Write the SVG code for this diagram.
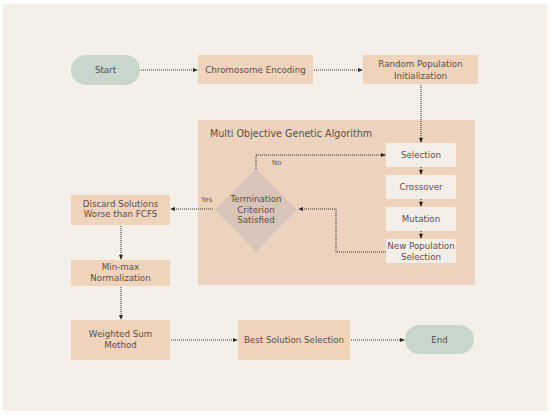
<svg xmlns="http://www.w3.org/2000/svg" width="550" height="415" viewBox="0 0 550 415">
<defs>
<marker id="ah" viewBox="0 0 6 6" refX="5" refY="3" markerWidth="5" markerHeight="5" orient="auto" markerUnits="userSpaceOnUse">
<path d="M0,0.5 L6,3 L0,5.5 Z" fill="#2f2925"/>
</marker>
<style>
.box{fill:#EFD3BB}
.inner{fill:#F4EEE8}
.pill{fill:#C9D6CD}
.t{font-family:"DejaVu Sans","Open Sans",sans-serif;font-size:8.7px;fill:#5c4f48;text-anchor:middle}
.s{font-family:"DejaVu Sans","Open Sans",sans-serif;font-size:7px;fill:#6a5c54}
.c{fill:none;stroke:#3a312c;stroke-width:1.1;stroke-dasharray:1 1;marker-end:url(#ah)}
</style>
</defs>
<rect x="0" y="0" width="550" height="415" fill="#ffffff"/>
<rect x="3" y="4" width="544" height="407" fill="#F4EFE9"/>

<g id="container">
<rect x="198" y="120" width="277" height="165" fill="#EDD3BE"/>
<text x="210" y="136.5" class="s" style="font-size:9.6px;fill:#5c4f48">Multi Objective Genetic Algorithm</text>
</g>

<g id="start"><rect x="71" y="55" width="69" height="30" rx="15" class="pill"/><text x="105.5" y="73" class="t">Start</text></g>
<g id="encoding"><rect x="198" y="55" width="115" height="29" class="box"/><text x="255.5" y="72.5" class="t">Chromosome Encoding</text></g>
<g id="init"><rect x="363" y="55" width="115" height="29" class="box"/><text x="420.5" y="67" class="t">Random Population</text><text x="420.5" y="78.5" class="t">Initialization</text></g>

<g id="selection"><rect x="386" y="143" width="70" height="24" class="inner"/><text x="421" y="158" class="t">Selection</text></g>
<g id="crossover"><rect x="386" y="175" width="70" height="24" class="inner"/><text x="421" y="190" class="t">Crossover</text></g>
<g id="mutation"><rect x="386" y="207" width="70" height="24" class="inner"/><text x="421" y="222" class="t">Mutation</text></g>
<g id="newpop"><rect x="386" y="239" width="70" height="24" class="inner"/><text x="421" y="249" class="t">New Population</text><text x="421" y="259.5" class="t">Selection</text></g>

<g id="termination"><polygon points="256,169 297,210 256,252 215,210" fill="#D8C4B8"/><text x="256" y="202" class="t">Termination</text><text x="256" y="212.5" class="t">Criterion</text><text x="256" y="223" class="t">Satisfied</text></g>

<g id="discard"><rect x="71" y="195" width="99" height="30" class="box"/><text x="120.5" y="206.5" class="t">Discard Solutions</text><text x="120.5" y="217" class="t">Worse than FCFS</text></g>
<g id="minmax"><rect x="71" y="260" width="99" height="26" class="box"/><text x="120.5" y="270" class="t">Min-max</text><text x="120.5" y="280.5" class="t">Normalization</text></g>
<g id="weighted"><rect x="71" y="320" width="99" height="40" class="box"/><text x="120.5" y="337" class="t">Weighted Sum</text><text x="120.5" y="347.5" class="t">Method</text></g>
<g id="best"><rect x="238" y="320" width="112" height="40" class="box"/><text x="294" y="343" class="t">Best Solution Selection</text></g>
<g id="end"><rect x="405" y="325" width="69" height="29" rx="14.5" class="pill"/><text x="439.5" y="342.5" class="t">End</text></g>

<g id="connectors">
<path class="c" d="M141,70 H197"/>
<path class="c" d="M314,70 H362"/>
<path class="c" d="M421,85 V142"/>
<path class="c" d="M421,167 V174"/>
<path class="c" d="M421,199 V206"/>
<path class="c" d="M421,231 V238"/>
<path class="c" d="M256,169 V155 H385"/>
<path class="c" d="M386,252 H336 V209 H299"/>
<path class="c" d="M213,209 H171"/>
<path class="c" d="M121,226 V259"/>
<path class="c" d="M121,287 V319"/>
<path class="c" d="M171,340 H237"/>
<path class="c" d="M351,340 H404"/>
<text x="272" y="164.5" class="s">No</text>
<text x="201" y="201.5" class="s">Yes</text>
</g>
</svg>
